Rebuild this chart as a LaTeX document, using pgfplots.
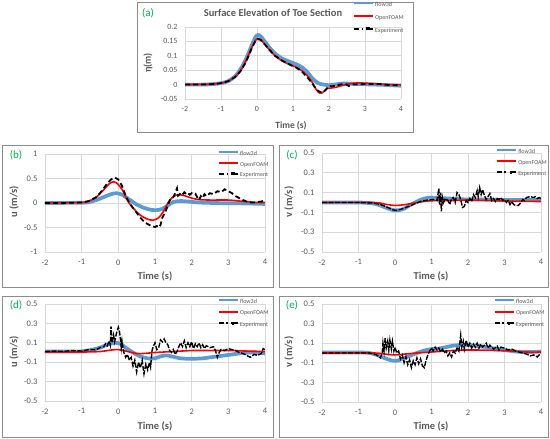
\documentclass[border=0pt]{standalone}
\usepackage{pgfplots}
\pgfplotsset{compat=1.18}
\usepackage{fontspec}
\setmainfont{Carlito}
\definecolor{cflow}{HTML}{5B9BD5}
\definecolor{cofm}{HTML}{FF0000}
\definecolor{gridc}{HTML}{D9D9D9}
\definecolor{txt}{HTML}{595959}
\definecolor{frm}{HTML}{8C8C8C}
\definecolor{grn}{HTML}{00B050}

\pgfplotsset{
 panel/.style={scale only axis, anchor=south west, xmin=-2, xmax=4, xtick={-2,-1,0,1,2,3,4},
  grid=major, major grid style={gridc, line width=0.7pt},
  axis line style={draw=none}, major tick length=0pt,
  /pgf/number format/assume math mode=true,
  tick label style={text=txt, font=\fontsize{8.5}{9}\selectfont},
  xticklabel style={yshift=-4pt},
  yticklabel style={xshift=-4pt, /pgf/number format/fixed},
  legend cell align=left,
  legend style={draw=none, fill=none, font=\fontsize{6}{6}\selectfont, text=txt, inner sep=0pt, anchor=north west,
     nodes={inner sep=1pt, text height=4pt, text depth=1pt}},
 },
 sflow/.style={cflow, line width=3.7pt, smooth,
   legend image code/.code={\draw[cflow, line width=2pt] (0pt,1.5pt) -- (19pt,1.5pt);}},
 sofm/.style={cofm, line width=1.6pt, smooth,
   legend image code/.code={\draw[cofm, line width=1.8pt] (0pt,1.5pt) -- (19pt,1.5pt);}},
 sexp/.style={black, line width=1.8pt, dash pattern=on 5pt off 3pt,
   legend image code/.code={\draw[black, line width=2pt] (0pt,1.5pt) -- (9pt,1.5pt); \fill[black] (13pt,0.5pt) rectangle (15pt,2.5pt); \draw[black, line width=2pt] (15pt,1.5pt) -- (19pt,1.5pt);}},
 sexpn/.style={black, line width=1.4pt, dash pattern=on 5pt off 1.5pt,
   legend image code/.code={\draw[black, line width=2pt] (0pt,1.5pt) -- (9pt,1.5pt); \fill[black] (13pt,0.5pt) rectangle (15pt,2.5pt); \draw[black, line width=2pt] (15pt,1.5pt) -- (19pt,1.5pt);}},
 vpanel/.style={panel, ymin=-0.5, ymax=0.5, ytick={-0.5,-0.3,-0.1,0.1,0.3,0.5}},
}

\begin{document}
\begin{tikzpicture}
\path (0pt,0pt) rectangle (550pt,439pt);
% frames
\draw[frm, line width=0.9pt] (137pt,307pt) rectangle (413pt,437pt);
\draw[frm, line width=0.9pt] (2pt,152pt) rectangle (273pt,294pt);
\draw[frm, line width=0.9pt] (279pt,152pt) rectangle (548pt,294pt);
\draw[frm, line width=0.9pt] (2pt,2pt) rectangle (273pt,143pt);
\draw[frm, line width=0.9pt] (279pt,2pt) rectangle (548pt,143pt);

% (a)
\begin{axis}[panel, at={(185pt,340pt)}, width=216pt, height=72pt,
  ymin=-0.05, ymax=0.2, ytick={-0.05,0,0.05,0.1,0.15,0.2},
  tick label style={font=\fontsize{8}{9}\selectfont},
  legend style={at={(axis description cs:0.778,1.36)}, row sep=6pt}]
\addplot[sflow] coordinates {(-2,0) (-1.5,0) (-1.2,0.002) (-1,0.005) (-0.8,0.012) (-0.6,0.03) (-0.45,0.055) (-0.3,0.09) (-0.15,0.135) (-0.05,0.163) (0.02,0.172) (0.1,0.168) (0.2,0.152) (0.35,0.128) (0.5,0.108) (0.7,0.09) (0.9,0.08) (1.1,0.07) (1.25,0.06) (1.4,0.043) (1.55,0.02) (1.7,0.005) (1.85,0) (2.0,-0.002) (2.2,0.001) (2.4,0.004) (2.6,0.003) (3,0.001) (3.5,-0.001) (4,-0.004)};
\addlegendentry{flow3d}
\addplot[sofm] coordinates {(-2,0) (-1.2,0.002) (-1,0.005) (-0.8,0.012) (-0.6,0.028) (-0.45,0.05) (-0.3,0.085) (-0.15,0.128) (-0.05,0.152) (0.03,0.16) (0.1,0.157) (0.2,0.143) (0.35,0.12) (0.5,0.1) (0.7,0.082) (0.9,0.07) (1.1,0.06) (1.25,0.048) (1.4,0.03) (1.55,0.005) (1.65,-0.018) (1.75,-0.03) (1.85,-0.025) (1.95,-0.012) (2.05,-0.012) (2.2,-0.009) (2.4,-0.002) (2.6,0.003) (2.8,0.006) (3.0,0.005) (3.3,0.003) (3.6,0) (4,0)};
\addlegendentry{OpenFOAM}
\addplot[sexp] coordinates {(-2,0) (-1.5,0) (-1.2,0.002) (-1,0.005) (-0.8,0.012) (-0.6,0.027) (-0.45,0.048) (-0.3,0.08) (-0.15,0.125) (-0.05,0.15) (0.02,0.158) (0.1,0.155) (0.2,0.142) (0.35,0.12) (0.5,0.1) (0.7,0.083) (0.9,0.07) (1.1,0.058) (1.25,0.045) (1.4,0.025) (1.5,0.01) (1.6,-0.008) (1.7,-0.022) (1.8,-0.028) (1.9,-0.02) (2.0,-0.005) (2.1,-0.006) (2.3,0) (2.45,0.003) (2.55,-0.005) (2.65,0) (3,0.002) (3.4,0.002) (3.7,-0.002) (4,-0.003)};
\addlegendentry{Experiment}
\end{axis}

% (b)
\begin{axis}[panel, at={(45pt,187pt)}, width=220pt, height=98pt,
  ymin=-1, ymax=1, ytick={-1,-0.5,0,0.5,1},
  legend style={at={(axis description cs:0.786,1.04)}, row sep=3.8pt}]
\addplot[sflow] coordinates {(-2,0) (-1,0.005) (-0.8,0.02) (-0.6,0.06) (-0.4,0.12) (-0.2,0.18) (-0.05,0.2) (0.1,0.17) (0.3,0.07) (0.5,-0.03) (0.7,-0.1) (0.9,-0.14) (1.05,-0.145) (1.2,-0.12) (1.35,-0.05) (1.5,0.02) (1.7,0.04) (1.9,0.03) (2.2,0.01) (2.6,0.0) (3.0,-0.005) (3.5,-0.01) (4.0,-0.02)};
\addlegendentry{flow3d}
\addplot[sofm] coordinates {(-2,0) (-1,0.01) (-0.8,0.04) (-0.6,0.12) (-0.4,0.27) (-0.25,0.39) (-0.15,0.43) (-0.05,0.41) (0.1,0.28) (0.25,0.05) (0.4,-0.1) (0.6,-0.25) (0.8,-0.33) (0.95,-0.35) (1.1,-0.3) (1.25,-0.15) (1.35,0.0) (1.5,0.13) (1.65,0.17) (1.8,0.15) (2.0,0.1) (2.2,0.07) (2.5,0.06) (3.0,0.06) (3.3,0.04) (3.6,0.02) (3.8,0.01) (4.0,0.01)};
\addlegendentry{OpenFOAM}
\addplot[sexp] coordinates {(-2,0) (-1.5,0) (-1.0,0.01) (-0.8,0.04) (-0.6,0.12) (-0.5,0.2) (-0.4,0.3) (-0.3,0.4) (-0.2,0.48) (-0.1,0.52) (0.0,0.48) (0.1,0.35) (0.2,0.15) (0.3,0.0) (0.4,-0.1) (0.5,-0.2) (0.6,-0.3) (0.7,-0.38) (0.8,-0.43) (0.9,-0.47) (1.0,-0.49) (1.05,-0.47) (1.1,-0.5) (1.15,-0.45) (1.2,-0.3) (1.3,-0.15) (1.4,0.05) (1.45,0.1) (1.5,0.12) (1.55,0.2) (1.6,0.3) (1.63,0.15) (1.7,0.2) (1.75,0.17) (1.8,0.22) (1.85,0.18) (1.9,0.2) (1.95,0.17) (2.0,0.2) (2.05,0.18) (2.1,0.19) (2.15,0.12) (2.2,0.06) (2.25,0.14) (2.3,0.1) (2.35,0.18) (2.4,0.14) (2.5,0.2) (2.6,0.18) (2.7,0.24) (2.8,0.22) (2.9,0.28) (3.0,0.24) (3.1,0.2) (3.2,0.14) (3.3,0.1) (3.4,0.06) (3.5,0.03) (3.6,0.01) (3.7,0.01) (3.8,0.02) (3.9,0.03) (4.0,0.06)};
\addlegendentry{Experiment}
\end{axis}

% (c)
\begin{axis}[vpanel, at={(322pt,187pt)}, width=219pt, height=99pt,
  legend style={at={(axis description cs:0.795,1.05)}, row sep=4pt}]
\addplot[sflow] coordinates {(-2,0) (-1,0) (-0.6,-0.01) (-0.4,-0.03) (-0.2,-0.06) (0.0,-0.08) (0.2,-0.07) (0.4,-0.03) (0.6,0.01) (0.8,0.04) (1.0,0.05) (1.2,0.045) (1.5,0.04) (2.0,0.03) (2.5,0.03) (3.0,0.025) (3.5,0.025) (4.0,0.025)};
\addlegendentry{flow3d}
\addplot[sofm] coordinates {(-2,0) (-0.6,0) (-0.3,-0.015) (0,-0.03) (0.3,-0.02) (0.6,0.0) (0.9,0.015) (1.2,0.02) (1.6,0.02) (2.0,0.025) (2.5,0.02) (3.0,0.015) (3.5,0.012) (4.0,0.01)};
\addlegendentry{OpenFOAM}
\addplot[sexpn] coordinates {(-2,0) (-1.5,0) (-1,0) (-0.6,-0.005) (-0.4,-0.02) (-0.2,-0.05) (-0.05,-0.075) (0.05,-0.08) (0.15,-0.07) (0.3,-0.05) (0.5,-0.02) (0.7,0.01) (0.9,0.025) (1.05,0.03) (1.15,0.02) (1.2,0.14) (1.22,-0.02) (1.25,0.1) (1.27,-0.09) (1.3,0.05) (1.33,0.0) (1.38,0.04) (1.45,0.02) (1.5,-0.02) (1.55,0.04) (1.6,0.05) (1.65,0.0) (1.7,0.1) (1.75,0.08) (1.8,0.03) (1.85,-0.05) (1.9,-0.04) (1.95,0.02) (2.0,0.0) (2.05,0.04) (2.1,0.01) (2.15,0.08) (2.2,0.05) (2.25,0.12) (2.28,0.06) (2.32,0.15) (2.36,0.08) (2.4,0.13) (2.45,0.07) (2.5,0.03) (2.55,0.06) (2.6,0.09) (2.65,0.02) (2.7,0.04) (2.75,0.01) (2.8,0.04) (2.85,0.03) (2.9,0.05) (2.95,0.02) (3.0,0.03) (3.05,0.0) (3.1,0.02) (3.15,-0.02) (3.2,0.01) (3.25,-0.02) (3.3,-0.03) (3.38,-0.03) (3.45,0.0) (3.5,0.03) (3.55,0.02) (3.6,0.05) (3.7,0.06) (3.8,0.05) (3.85,0.06) (3.9,0.04) (3.95,0.05) (4.0,0.04)};
\addlegendentry{Experiment}
\end{axis}

% (d)
\begin{axis}[vpanel, at={(45pt,38pt)}, width=220pt, height=97pt,
  legend style={at={(axis description cs:0.786,1.06)}, row sep=4.5pt}]
\addplot[sflow] coordinates {(-2,0.01) (-1.5,0.01) (-1,0.012) (-0.7,0.03) (-0.5,0.05) (-0.3,0.08) (-0.1,0.1) (0.05,0.09) (0.2,0.05) (0.4,0.0) (0.6,-0.04) (0.8,-0.06) (1.0,-0.06) (1.15,-0.04) (1.3,-0.03) (1.45,-0.04) (1.7,-0.06) (2.0,-0.065) (2.3,-0.06) (2.6,-0.045) (3.0,-0.025) (3.3,-0.01) (3.6,0.0) (4.0,-0.01)};
\addlegendentry{flow3d}
\addplot[sofm] coordinates {(-2,0.005) (-1,0.005) (-0.5,0.01) (-0.2,0.025) (0.0,0.03) (0.2,0.015) (0.5,-0.01) (0.7,-0.01) (1.0,0.0) (1.5,0.01) (2.0,0.02) (2.5,0.02) (3.0,0.02) (3.5,0.015) (4.0,0.01)};
\addlegendentry{OpenFOAM}
\addplot[sexpn] coordinates {(-2,0.01) (-1.7,0.015) (-1.5,0.01) (-1.3,0.02) (-1.0,0.015) (-0.8,0.03) (-0.6,0.03) (-0.5,0.05) (-0.4,0.06) (-0.35,0.09) (-0.3,0.07) (-0.25,0.12) (-0.22,0.08) (-0.2,0.27) (-0.17,0.1) (-0.13,0.18) (-0.1,0.11) (-0.05,0.2) (0.0,0.26) (0.03,0.22) (0.06,0.13) (0.08,0.05) (0.1,0.12) (0.15,0.0) (0.2,-0.05) (0.25,-0.02) (0.3,-0.08) (0.35,-0.05) (0.4,-0.14) (0.45,-0.08) (0.5,-0.2) (0.55,-0.1) (0.6,-0.16) (0.65,-0.08) (0.7,-0.22) (0.75,-0.12) (0.8,-0.18) (0.85,-0.1) (0.88,-0.15) (0.92,0.02) (0.95,0.06) (1.0,0.1) (1.05,0.03) (1.1,0.05) (1.15,0.13) (1.2,0.11) (1.25,0.14) (1.3,0.1) (1.35,0.08) (1.4,0.02) (1.45,0.0) (1.5,0.03) (1.55,-0.02) (1.6,0.01) (1.65,0.06) (1.7,0.1) (1.75,0.06) (1.8,0.12) (1.85,0.05) (1.9,0.1) (1.95,0.06) (2.0,0.11) (2.05,0.04) (2.1,0.09) (2.15,0.06) (2.2,0.1) (2.25,0.05) (2.3,0.08) (2.35,0.04) (2.4,0.07) (2.5,0.05) (2.6,0.06) (2.65,0.02) (2.7,-0.05) (2.75,0.0) (2.8,0.03) (2.9,0.02) (3.0,0.04) (3.1,0.03) (3.2,0.02) (3.3,0.0) (3.4,-0.01) (3.5,-0.03) (3.6,-0.05) (3.7,-0.02) (3.8,-0.03) (3.9,-0.01) (3.95,0.04) (4.0,0.03)};
\addlegendentry{Experiment}
\end{axis}

% (e)
\begin{axis}[vpanel, at={(322pt,37pt)}, width=219pt, height=98pt,
  legend style={at={(axis description cs:0.785,1.06)}, row sep=4.5pt}]
\addplot[sflow] coordinates {(-2,0.005) (-1,0.005) (-0.7,0.0) (-0.5,-0.02) (-0.3,-0.05) (-0.1,-0.075) (0.05,-0.08) (0.2,-0.06) (0.4,-0.03) (0.6,0.0) (0.8,0.025) (1.0,0.04) (1.2,0.045) (1.4,0.06) (1.6,0.075) (1.8,0.08) (2.0,0.08) (2.2,0.075) (2.5,0.06) (2.8,0.04) (3.1,0.025) (3.4,0.012) (3.7,0.01) (4.0,0.015)};
\addlegendentry{flow3d}
\addplot[sofm] coordinates {(-2,0) (-0.6,0) (-0.3,-0.01) (0,-0.02) (0.3,-0.01) (0.6,0.0) (1.0,0.01) (1.4,0.02) (1.8,0.03) (2.3,0.03) (2.8,0.025) (3.2,0.02) (3.6,0.01) (4.0,0.01)};
\addlegendentry{OpenFOAM}
\addplot[sexpn] coordinates {(-2,0) (-1.5,0) (-1,0) (-0.7,0) (-0.5,-0.02) (-0.4,-0.05) (-0.35,0.0) (-0.33,0.1) (-0.3,0.02) (-0.27,0.15) (-0.24,0.05) (-0.2,0.12) (-0.17,0.03) (-0.14,0.13) (-0.1,0.04) (-0.07,0.12) (-0.03,0.02) (0.0,0.06) (0.05,0.0) (0.1,0.02) (0.15,-0.06) (0.2,-0.02) (0.25,-0.1) (0.3,-0.04) (0.35,-0.12) (0.4,-0.07) (0.45,-0.15) (0.5,-0.08) (0.55,-0.12) (0.6,-0.05) (0.65,-0.11) (0.7,-0.06) (0.75,-0.13) (0.8,-0.15) (0.85,-0.08) (0.9,-0.02) (0.95,0.02) (1.0,0.05) (1.05,0.02) (1.1,0.06) (1.15,0.03) (1.2,0.05) (1.25,0.01) (1.3,0.04) (1.35,0.0) (1.4,0.02) (1.45,-0.03) (1.5,0.0) (1.55,-0.04) (1.6,0.02) (1.65,0.0) (1.7,0.05) (1.75,0.02) (1.8,0.18) (1.83,0.06) (1.87,0.12) (1.9,0.04) (1.95,0.13) (2.0,0.06) (2.05,0.1) (2.1,0.05) (2.15,0.09) (2.2,0.06) (2.25,0.1) (2.3,0.05) (2.35,0.09) (2.4,0.06) (2.5,0.1) (2.55,0.05) (2.6,0.08) (2.7,0.04) (2.8,0.07) (2.85,0.03) (2.9,0.06) (3.0,0.05) (3.1,0.03) (3.2,0.04) (3.3,0.02) (3.4,0.01) (3.5,0.0) (3.6,-0.01) (3.7,-0.03) (3.8,-0.02) (3.9,-0.04) (4.0,0.0)};
\addlegendentry{Experiment}
\end{axis}

% titles and labels
\node[text=grn, font=\fontsize{11}{12}\selectfont] at (148pt,426pt) {(a)};
\node[text=txt, font=\bfseries\fontsize{10.5}{12}\selectfont] at (273pt,426pt) {Surface Elevation of Toe Section};
\node[text=txt, font=\bfseries\fontsize{9.5}{11}\selectfont] at (291pt,313pt) {Time (s)};
\node[text=txt, font=\bfseries\fontsize{10}{11}\selectfont, rotate=90] at (148pt,376pt) {η(m)};

\node[text=grn, font=\fontsize{11}{12}\selectfont] at (16pt,284pt) {(b)};
\node[text=txt, font=\bfseries\fontsize{10.5}{12}\selectfont] at (155pt,163pt) {Time (s)};
\node[text=txt, font=\bfseries\fontsize{10.5}{12}\selectfont, rotate=90] at (14pt,237pt) {u (m/s)};

\node[text=grn, font=\fontsize{11}{12}\selectfont] at (292pt,284pt) {(c)};
\node[text=txt, font=\bfseries\fontsize{10.5}{12}\selectfont] at (431pt,163pt) {Time (s)};
\node[text=txt, font=\bfseries\fontsize{10.5}{12}\selectfont, rotate=90] at (289pt,237pt) {v (m/s)};

\node[text=grn, font=\fontsize{11}{12}\selectfont] at (16pt,134pt) {(d)};
\node[text=txt, font=\bfseries\fontsize{10.5}{12}\selectfont] at (155pt,13pt) {Time (s)};
\node[text=txt, font=\bfseries\fontsize{10.5}{12}\selectfont, rotate=90] at (14pt,87pt) {u (m/s)};

\node[text=grn, font=\fontsize{11}{12}\selectfont] at (292pt,134pt) {(e)};
\node[text=txt, font=\bfseries\fontsize{10.5}{12}\selectfont] at (431pt,13pt) {Time (s)};
\node[text=txt, font=\bfseries\fontsize{10.5}{12}\selectfont, rotate=90] at (289pt,87pt) {v (m/s)};
\end{tikzpicture}
\end{document}
